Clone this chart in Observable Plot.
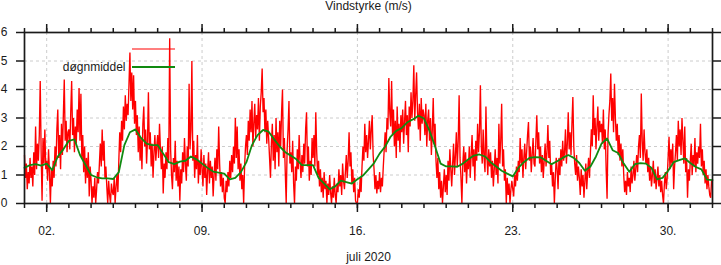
<!DOCTYPE html>
<html><head><meta charset="utf-8">
<script src="https://cdn.jsdelivr.net/npm/d3@7"></script>
<script src="https://cdn.jsdelivr.net/npm/@observablehq/plot@0.6"></script>
<style>
html,body{margin:0;padding:0;background:#fff}
svg{font-family:"Liberation Sans",Arial,Helvetica,sans-serif}
</style>
</head><body><div id="chart"></div>
<script>
// Hourly wind speed (m/s), one row per day, 1–31 July 2020
const vindJuli = [
 [1.7,0.9,1.4,0.5,1.1,0.7,1.6,0.9,1.3,0.6,1.8,1.0,2.7,1.2,2.1,1.5,2.4,4.3,1.8,0.1,2.3,1.4,2.6,1.2],
 [1.5,0.8,1.9,1.1,0.0,1.2,0.6,1.5,0.9,2.0,1.3,2.6,3.3,1.6,2.4,1.2,2.8,1.7,3.1,4.35,2.2,2.9,1.8,2.5],
 [2.6,1.9,3.2,4.3,2.4,3.0,1.8,2.7,2.1,3.3,2.5,4.05,2.2,3.85,1.6,2.4,1.1,2.0,0.7,1.6,0.9,1.8,0.25,1.3],
 [0.8,0.0,0.6,0.2,0.9,0.0,0.5,1.1,0.7,1.4,2.1,1.3,2.6,1.5,2.2,0.9,1.3,0.6,0.0,0.8,0.3,0.0,0.7,0.4],
 [0.3,0.9,0.0,0.6,1.0,0.4,1.5,2.5,1.8,2.9,2.2,3.4,2.6,3.8,2.9,3.5,3.1,4.2,5.3,3.6,4.6,3.3,4.5,2.8],
 [3.6,2.4,3.1,1.8,2.7,1.5,2.3,1.2,2.8,3.4,2.0,2.6,1.4,2.2,3.9,1.9,2.5,1.3,2.1,0.9,1.8,2.4,1.5,2.0],
 [2.4,1.6,2.8,1.9,1.2,2.0,0.35,1.4,0.9,1.8,1.2,2.3,1.5,5.8,1.9,1.0,0.5,1.6,1.1,2.2,0.8,1.5,0.6,1.3],
 [0.1,1.2,0.7,1.8,1.1,2.3,1.4,0.8,2.0,1.3,4.2,1.9,2.6,5.0,1.5,2.2,0.9,1.7,1.2,2.4,0.7,1.5,1.0,1.9],
 [1.2,0.6,1.7,0.9,1.4,0.3,1.1,1.8,0.7,1.5,0.9,1.3,0.25,1.0,1.6,0.8,1.9,1.2,2.7,1.4,0.6,1.1,0.4,0.9],
 [0.2,0.0,0.8,0.4,1.1,0.6,1.5,0.9,1.7,1.1,2.0,1.4,3.0,1.6,2.7,1.2,1.9,0.8,1.4,0.5,1.0,0.0,1.3,2.0],
 [2.4,1.7,2.9,2.2,3.3,2.5,3.6,2.0,2.8,3.5,2.3,3.1,2.6,3.7,2.2,3.4,3.9,4.74,3.2,3.7,2.5,3.3,2.1,2.9],
 [2.3,1.6,0.9,2.1,2.8,1.5,2.4,1.2,3.0,1.8,2.5,1.3,2.9,2.0,3.2,4.0,1.6,2.3,1.1,0.0,1.9,2.6,3.6,1.4],
 [1.8,1.1,2.2,0.7,0.0,1.3,0.8,1.9,1.2,2.4,1.5,0.9,1.7,1.1,2.1,1.4,2.6,3.2,1.3,2.0,0.8,1.5,1.0,2.3],
 [1.6,2.4,1.3,3.2,1.8,1.0,1.5,0.6,1.2,0.4,0.9,0.2,1.1,0.5,0.8,0.0,0.7,0.3,1.0,0.4,0.0,0.6,0.2,0.9],
 [0.3,0.0,0.7,0.4,1.2,0.6,1.0,0.3,1.4,0.8,0.5,1.1,1.7,0.9,1.5,2.5,1.3,1.8,0.7,1.2,0.4,0.9,0.1,0.0],
 [0.0,0.5,0.2,0.9,0.4,1.3,2.0,1.5,2.8,1.8,2.4,1.6,2.2,2.9,1.9,2.6,3.1,1.7,1.2,0.5,1.0,0.35,0.8,0.5],
 [1.1,0.4,0.9,0.6,1.3,1.9,2.5,1.8,3.0,2.6,4.4,3.2,2.7,4.3,2.4,3.3,2.0,2.9,1.6,3.4,2.2,2.8,1.8,3.1],
 [2.5,3.3,2.1,2.9,3.6,2.4,3.1,1.8,3.4,2.7,3.9,3.0,3.6,4.85,2.9,3.8,4.6,3.2,2.6,3.5,2.2,3.7,2.8,3.3],
 [3.1,2.4,3.5,2.0,2.9,3.3,2.2,3.0,1.7,2.6,3.7,2.1,2.8,1.5,0.9,1.6,0.5,1.1,0.2,0.8,0.0,0.6,1.2,0.4],
 [1.0,0.3,1.5,0.8,1.9,1.2,0.6,1.4,2.1,1.0,1.7,2.5,1.3,2.2,3.8,1.6,0.9,0.0,1.4,2.0,1.1,1.8,0.7,1.5],
 [1.2,2.0,0.9,1.7,2.4,1.3,1.9,0.8,2.2,1.5,2.8,1.8,2.5,4.15,2.0,1.4,2.6,1.6,1.1,3.4,1.7,1.0,1.9,1.3],
 [1.8,0.9,1.5,0.6,1.2,1.9,1.0,1.6,0.7,2.8,1.4,2.2,3.5,1.3,1.9,0.8,1.2,0.0,0.9,0.3,0.7,0.0,0.5,0.8],
 [0.5,0.25,1.0,0.6,1.3,0.8,1.5,1.1,2.3,1.4,1.9,0.9,1.6,2.1,1.2,1.8,2.4,2.86,1.5,2.0,1.1,1.7,2.3,1.4],
 [1.3,2.2,3.1,1.9,2.5,1.4,2.0,1.1,1.7,0.9,1.5,2.1,1.3,1.8,2.75,1.6,2.2,1.0,1.4,0.6,1.1,0.0,0.9,1.6],
 [1.2,0.5,1.6,1.0,1.9,1.3,2.2,1.5,1.8,2.6,1.4,2.1,3.2,1.9,2.5,1.7,2.8,3.74,2.0,1.4,1.0,1.7,0.8,1.3],
 [0.9,0.3,1.2,0.6,1.0,0.2,0.8,1.4,0.5,1.1,1.6,0.9,1.8,2.6,2.0,3.8,2.4,3.0,1.9,2.7,3.4,2.2,2.9,2.5],
 [2.8,2.1,3.3,1.9,2.6,1.2,0.17,2.4,3.1,3.6,4.56,2.9,3.7,2.5,4.2,3.0,2.2,2.8,1.7,2.4,1.5,2.1,1.3,1.9],
 [1.0,0.4,0.8,0.3,1.1,0.6,0.9,0.4,1.3,0.7,1.0,1.5,0.8,1.2,1.7,1.1,2.0,2.4,1.6,3.86,2.2,1.5,2.6,1.8],
 [1.4,1.9,1.1,1.6,0.8,1.3,0.6,1.0,1.5,0.7,1.2,0.5,0.9,1.3,0.6,1.0,0.4,0.8,0.3,0.0,0.7,1.1,0.5,0.9],
 [1.6,2.34,1.2,1.9,1.4,2.1,0.5,1.3,1.8,2.4,1.5,2.9,2.0,2.6,1.7,3.0,2.2,1.4,2.7,1.1,1.6,0.2,1.2,0.8],
 [1.5,2.1,1.0,1.7,1.3,2.3,1.1,1.8,1.4,2.0,1.6,2.8,1.3,1.9,1.0,1.5,0.7,1.2,0.5,1.0,0.6,0.3,0.2,0.8]
];
// Running daily mean (døgnmiddel), every 6 hours from 1 July 00:00
const dognmiddel = [
 1.25,1.35,1.38,1.33,1.4,1.17,1.65,1.9,2.2,2.25,
 1.7,1.35,1.0,0.92,0.88,0.88,0.86,1.1,2.05,2.5,
 2.6,2.3,2.1,2.05,2.05,1.75,1.45,1.38,1.47,1.5,
 1.65,1.55,1.4,1.25,1.12,1.08,1.05,0.85,0.9,1.1,
 1.45,2.05,2.4,2.58,2.52,2.25,2.0,1.8,1.68,1.55,
 1.35,1.35,1.35,0.9,0.7,0.5,0.6,0.8,0.75,0.7,
 0.85,0.98,1.2,1.42,1.75,2.0,2.35,2.55,2.65,2.85,
 2.95,3.08,2.98,2.55,2.0,1.4,1.3,1.3,1.29,1.4,
 1.55,1.68,1.72,1.65,1.45,1.3,1.15,1.05,0.95,1.25,
 1.45,1.6,1.63,1.62,1.5,1.38,1.48,1.6,1.7,1.6,
 1.42,1.15,1.3,1.65,2.1,2.28,1.87,1.77,1.4,1.11,
 1.38,1.42,1.4,1.25,0.85,0.9,1.15,1.45,1.52,1.58,
 1.42,1.28,1.2,0.84,0.82
];
const majorTickDates = ["2020-07-02","2020-07-09","2020-07-16","2020-07-23","2020-07-30"];
const majorTickLabels = ["02.","09.","16.","23.","30."];
const yTicks = [0,1,2,3,4,5,6];
const yGrid = [1,2,3,4,5];
const titleText = "Vindstyrke (m/s)";
const xTitleText = "juli 2020";
const legendLabels = ["", "døgnmiddel"];

const t0 = Date.UTC(2020,6,1);
const t1 = Date.UTC(2020,7,1);
const hourly = vindJuli.flatMap((day, d) => day.map((v, h) => ({date: new Date(t0 + (d*24 + h)*3600e3), v})));
const daily = dognmiddel.map((v, i) => ({date: new Date(t0 + i*6*3600e3), v}));
const majors = majorTickDates.map(s => new Date(s + "T00:00:00Z"));
const labelOf = new Map(majors.map((d, i) => [+d, majorTickLabels[i]]));
const minors = d3.utcDay.range(new Date(t0), new Date(t1 + 1));

const ink = "#1a1a1a";
const plot = Plot.plot({
  width: 721, height: 265,
  marginLeft: 24, marginRight: 9, marginTop: 32, marginBottom: 62,
  style: {fontFamily: '"Liberation Sans", Arial, sans-serif', fontSize: "12px", color: ink, background: "white", overflow: "visible"},
  x: {type: "utc", domain: [new Date(t0), new Date(t1)], label: null},
  y: {domain: [0, 6], label: null},
  marks: [
    Plot.gridX(majors, {stroke: "#cccccc", strokeOpacity: 1, strokeDasharray: "3,3"}),
    Plot.gridY(yGrid, {stroke: "#cccccc", strokeOpacity: 1, strokeDasharray: "3,3"}),
    Plot.line(hourly, {x: "date", y: "v", stroke: "#ff0000", strokeWidth: 1.35, strokeLinejoin: "miter"}),
    Plot.line(daily, {x: "date", y: "v", stroke: "#108a10", strokeWidth: 1.8}),
    Plot.axisX(minors, {anchor: "bottom", tickSize: 5, strokeWidth: 1.5, stroke: ink, tickFormat: () => "", label: null}),
    Plot.axisX(minors, {anchor: "top", tickSize: 5, strokeWidth: 1.5, stroke: ink, tickFormat: () => "", label: null}),
    Plot.axisX(majors, {anchor: "bottom", tickSize: 9, tickPadding: 14, strokeWidth: 1.5, stroke: ink, fill: ink, fontSize: 12, tickFormat: d => labelOf.get(+d), label: null}),
    Plot.axisX(majors, {anchor: "top", tickSize: 9, strokeWidth: 1.5, stroke: ink, tickFormat: () => "", label: null}),
    Plot.axisY(yTicks, {anchor: "left", tickSize: 8, tickPadding: 9, strokeWidth: 1.5, stroke: ink, fill: ink, fontSize: 12, tickFormat: d => String(d), label: null}),
    Plot.axisY(yTicks, {anchor: "right", tickSize: 8, strokeWidth: 1.5, stroke: ink, tickFormat: () => "", label: null}),
    Plot.frame({stroke: ink, strokeWidth: 1.7}),
    Plot.text([titleText], {frameAnchor: "top", lineAnchor: "middle", dy: -26.5, fontSize: 12, fill: ink}),
    Plot.text([xTitleText], {frameAnchor: "bottom", lineAnchor: "middle", dy: 54, fontSize: 12, fill: ink}),
    Plot.text([legendLabels[1]], {frameAnchor: "top-left", textAnchor: "end", lineAnchor: "middle", dx: 101, dy: 35, fontSize: 12, fill: ink})
  ]
});
document.getElementById("chart").appendChild(plot);

// legend line samples
const svg = d3.select(plot);
const lg = svg.append("g");
lg.append("line").attr("x1", 132).attr("x2", 175).attr("y1", 49).attr("y2", 49).attr("stroke", "#ff0000").attr("stroke-width", 1.2);
lg.append("line").attr("x1", 132).attr("x2", 175).attr("y1", 67).attr("y2", 67).attr("stroke", "#108a10").attr("stroke-width", 1.8);
</script>
</body></html>
